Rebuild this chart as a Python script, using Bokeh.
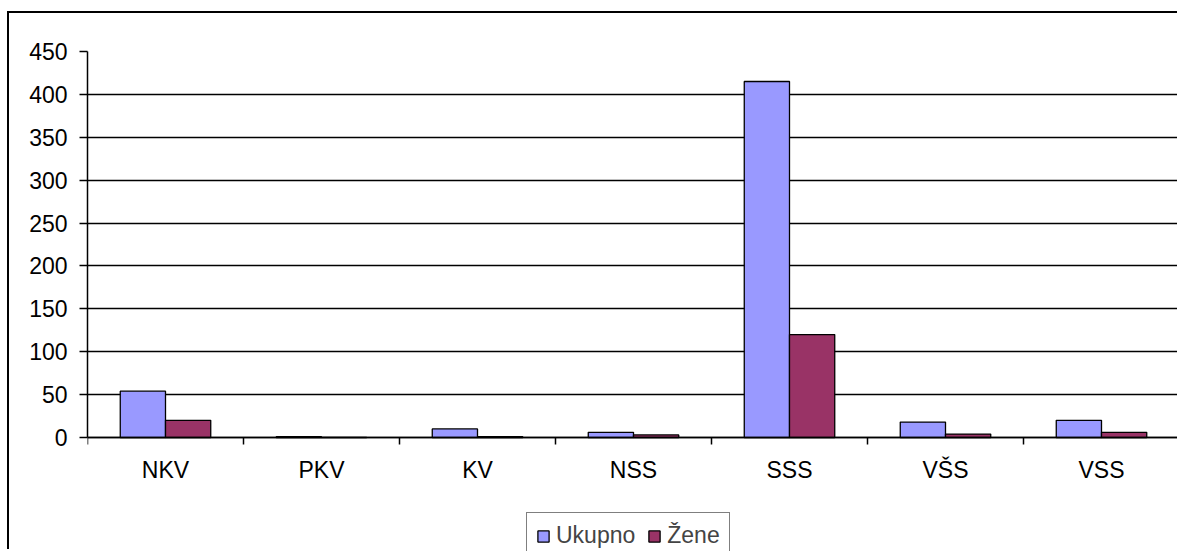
from bokeh.plotting import figure
from bokeh.models import ColumnDataSource, FixedTicker, Legend, LegendItem, Range1d
from bokeh.transform import dodge
from bokeh.embed import file_html
from bokeh.resources import INLINE

categories = ["NKV", "PKV", "KV", "NSS", "SSS", "VŠS", "VSS"]
ukupno = [54, 1, 10, 6, 415, 18, 20]
zene = [20, 0, 1, 3, 120, 4, 6]
y_ticks = [0, 50, 100, 150, 200, 250, 300, 350, 400, 450]
series_names = ["Ukupno", "Žene"]
series_colors = ["#9999FF", "#993366"]

FONT = "Liberation Sans"
FS = "23px"

# layout: plot area 386px tall for 0..450; frame extends below to hold labels + legend
AREA_H = 386
FRAME_H = 500
y_top = y_ticks[-1]
y_bottom = y_top - y_top * FRAME_H / AREA_H

pos = [i + 0.5 for i in range(len(categories))]
src = ColumnDataSource(dict(x=pos, cat=categories, ukupno=ukupno, zene=zene))

p = figure(width=1170, height=538,
           x_range=Range1d(0, len(categories)), y_range=Range1d(y_bottom, y_top),
           output_backend="svg", toolbar_location=None,
           min_border_left=78, min_border_right=0, min_border_top=38, min_border_bottom=0)
p.styles = {"border-top": "2px solid black", "border-left": "2px solid black",
            "margin-top": "11px", "margin-left": "7px"}
p.outline_line_color = None
p.background_fill_color = "white"
p.border_fill_color = "white"

bw = 0.29
r1 = p.vbar(x=dodge("x", -bw / 2, range=p.x_range), top="ukupno", width=bw, source=src,
            fill_color=series_colors[0], line_color="black", line_width=1.3)
r2 = p.vbar(x=dodge("x", bw / 2, range=p.x_range), top="zene", width=bw, source=src,
            fill_color=series_colors[1], line_color="black", line_width=1.3)

# x axis (drawn at y = 0)
p.xaxis.fixed_location = 0
p.xaxis.ticker = FixedTicker(ticks=pos, minor_ticks=list(range(len(categories) + 1)))
p.xaxis.major_label_overrides = {x: c for x, c in zip(pos, categories)}
p.xaxis.major_tick_out = 0
p.xaxis.major_tick_in = 0
p.xaxis.minor_tick_out = 7
p.xaxis.minor_tick_in = 0
p.xaxis.minor_tick_line_color = "black"
p.xaxis.minor_tick_line_width = 1.5
p.xaxis.major_label_standoff = 12

# y axis
p.yaxis.ticker = FixedTicker(ticks=y_ticks, minor_ticks=[])
p.yaxis.bounds = (0, y_top)
p.yaxis.major_tick_out = 8
p.yaxis.major_tick_in = 0
p.yaxis.major_label_standoff = 12

for ax in (p.xaxis[0], p.yaxis[0]):
    ax.axis_line_color = "black"
    ax.axis_line_width = 1.5
    ax.major_tick_line_color = "black"
    ax.major_tick_line_width = 1.5
    ax.major_label_text_font = FONT
    ax.major_label_text_font_size = FS
    ax.major_label_text_color = "black"

p.xgrid.visible = False
p.ygrid.ticker = FixedTicker(ticks=y_ticks)
p.ygrid.grid_line_color = "black"
p.ygrid.grid_line_width = 1.5

legend = Legend(items=[LegendItem(label=series_names[0], renderers=[r1]),
                       LegendItem(label=series_names[1], renderers=[r2])],
                orientation="horizontal", location=(439, -8),
                label_text_font=FONT, label_text_font_size=FS,
                glyph_width=14, glyph_height=14, padding=9, spacing=12,
                label_standoff=6, border_line_color="black", border_line_width=1.5,
                background_fill_color="white", background_fill_alpha=1, margin=0)
p.add_layout(legend, "center")

open("out.html", "w").write(file_html(p, INLINE))
